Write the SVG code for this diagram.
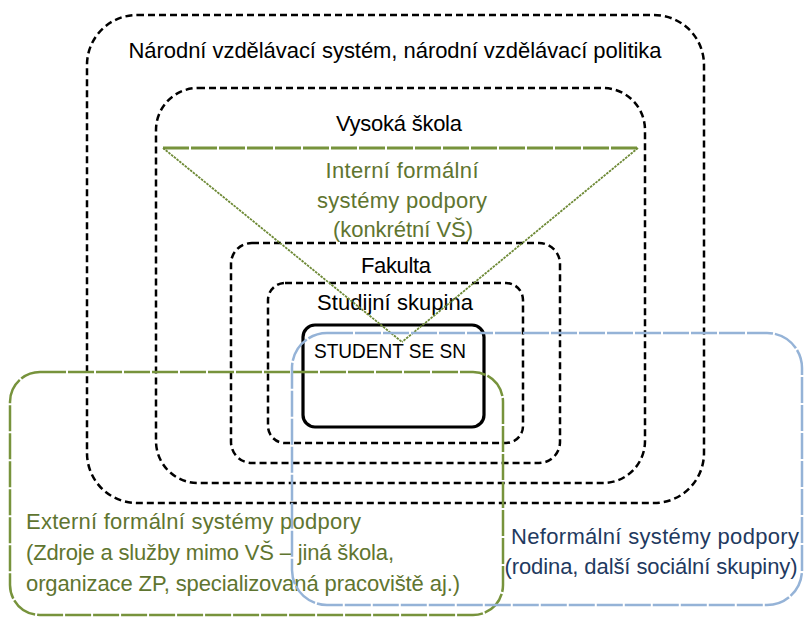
<svg xmlns="http://www.w3.org/2000/svg" width="804" height="617" viewBox="0 0 804 617">
<style>
  .frame { fill: none; stroke: #000; stroke-width: 2.5; stroke-dasharray: 7 4; }
  .student { fill: none; stroke: #000; stroke-width: 3.2; }
  .green { fill: none; stroke: #77933C; stroke-width: 2.5; stroke-dasharray: 26 2; }
  .blue { fill: none; stroke: #95B3D7; stroke-width: 2.5; stroke-dasharray: 26 2; }
  .tri-top { stroke: #77933C; stroke-width: 3; stroke-dasharray: 26 2; }
  .tri-side { stroke: #6E8A36; stroke-width: 1.8; stroke-dasharray: 2.5 1; }
  text { font-family: "Liberation Sans", Arial, sans-serif; font-size: 22px; }
  .t-black { fill: #000; }
  .t-green { fill: #5F7530; }
  .t-blue { fill: #1F3A5F; }
  .mid { text-anchor: middle; }
</style>
<rect width="804" height="617" fill="#fff"/>

<g id="narodni">
  <rect class="frame" x="87" y="15" width="617" height="488" rx="50" ry="50"/>
  <text class="t-black mid" x="395" y="58" textLength="533">Národní vzdělávací systém, národní vzdělávací politika</text>
</g>

<g id="vysoka-skola">
  <rect class="frame" x="156" y="88" width="489" height="395" rx="42" ry="42"/>
  <text class="t-black mid" x="399" y="131" textLength="126">Vysoká škola</text>
</g>

<g id="fakulta">
  <rect class="frame" x="231" y="243" width="329" height="220" rx="21" ry="21"/>
  <text class="t-black mid" x="396" y="273" textLength="70">Fakulta</text>
</g>

<g id="studijni-skupina">
  <rect class="frame" x="268" y="283" width="255" height="160" rx="17" ry="17"/>
  <text class="t-black mid" x="395" y="310" textLength="156">Studijní skupina</text>
</g>

<g id="student">
  <rect class="student" x="303" y="325" width="181" height="102" rx="12" ry="12"/>
  <text class="t-black" x="314" y="358" textLength="152" lengthAdjust="spacingAndGlyphs" style="font-size:21px">STUDENT SE SN</text>
</g>

<g id="interni">
  <line class="tri-top" x1="163" y1="148" x2="638" y2="148"/>
  <text class="t-green mid" x="402" y="178" textLength="153">Interní formální</text>
  <text class="t-green mid" x="402" y="208" textLength="170">systémy podpory</text>
  <text class="t-green mid" x="403" y="237" textLength="140">(konkrétní VŠ)</text>
</g>

<g id="connectors">
  <line class="tri-side" x1="163" y1="148" x2="402" y2="342"/>
  <line class="tri-side" x1="638" y1="148" x2="402" y2="342"/>
</g>

<g id="externi">
  <rect class="green" x="10" y="372" width="493" height="243" rx="30" ry="30"/>
  <text class="t-green" x="26" y="529" textLength="335">Externí formální systémy podpory</text>
  <text class="t-green" x="26" y="560" textLength="368">(Zdroje a služby mimo VŠ – jiná škola,</text>
  <text class="t-green" x="26" y="591" textLength="434">organizace ZP, specializovaná pracoviště aj.)</text>
</g>

<g id="neformalni">
  <rect class="blue" x="292" y="333" width="510" height="272" rx="35" ry="35"/>
  <text class="t-blue mid" x="655" y="544" textLength="288">Neformální systémy podpory</text>
  <text class="t-blue mid" x="651" y="574" textLength="293">(rodina, další sociální skupiny)</text>
</g>
</svg>
